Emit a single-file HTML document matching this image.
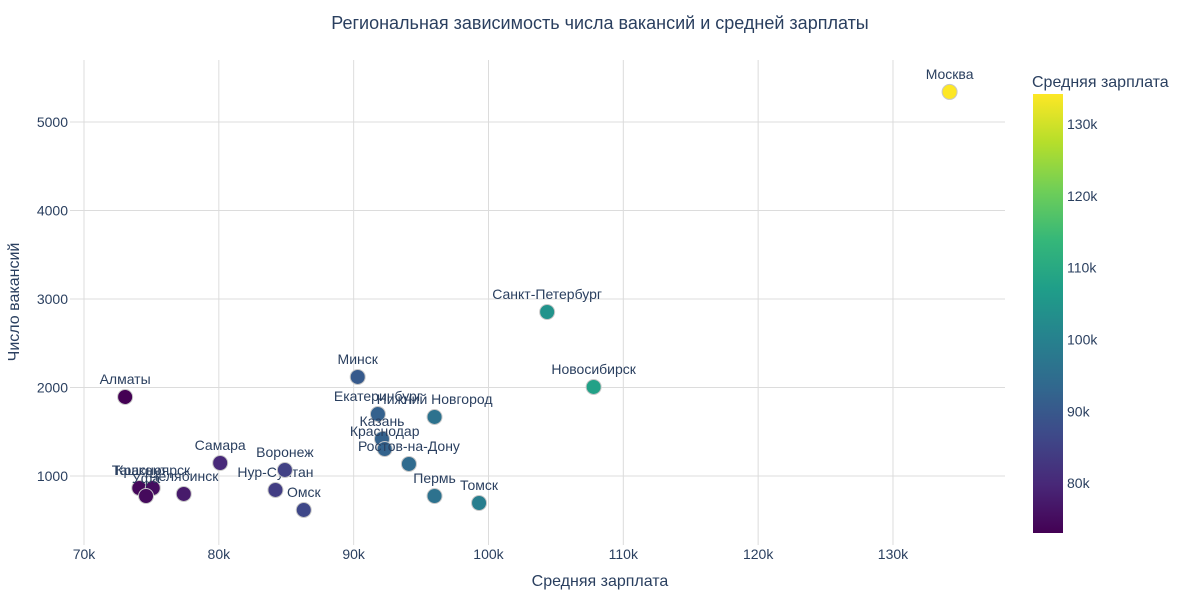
<!DOCTYPE html>
<html><head><meta charset="utf-8"><style>
body{margin:0;background:#fff;font-family:"Liberation Sans","DejaVu Sans",sans-serif}
svg text{font-family:"Liberation Sans","DejaVu Sans",sans-serif;fill:#2a3f5f}
</style></head><body>
<svg id="chart" width="1200" height="600">
<defs><linearGradient id="vir" x1="0" y1="1" x2="0" y2="0">
<stop offset="0" stop-color="#440154"/><stop offset="0.111" stop-color="#482878"/><stop offset="0.222" stop-color="#3e4989"/><stop offset="0.333" stop-color="#31688e"/><stop offset="0.444" stop-color="#26828e"/><stop offset="0.556" stop-color="#1f9e89"/><stop offset="0.667" stop-color="#35b779"/><stop offset="0.778" stop-color="#6ece58"/><stop offset="0.889" stop-color="#b5de2b"/><stop offset="1" stop-color="#fde725"/>
</linearGradient></defs>
<text x="600" y="29" text-anchor="middle" font-size="18">Региональная зависимость числа вакансий и средней зарплаты</text>
<g id="grid"></g><g id="marks"></g>
<text x="600" y="586" text-anchor="middle" font-size="16">Средняя зарплата</text>
<text transform="translate(19,302) rotate(-90)" text-anchor="middle" font-size="16">Число вакансий</text>
<text x="1032" y="87" font-size="16">Средняя зарплата</text>
<rect x="1033" y="94" width="30" height="439" fill="url(#vir)"/>
<g id="cbticks"></g>
</svg>
<script>
const cities=["Москва","Санкт-Петербург","Новосибирск","Минск","Екатеринбург","Нижний Новгород","Казань","Краснодар","Ростов-на-Дону","Пермь","Томск","Омск","Нур-Султан","Воронеж","Самара","Челябинск","Алматы","Ташкент","Красноярск","Уфа"];
const salaries=[134200,104350,107800,90300,91800,96000,92100,92300,94100,96000,99300,86300,84200,84900,80100,77400,73050,74100,75100,74600];
const vacancies=[5340,2853,2006,2119,1700,1667,1418,1305,1136,774,695,616,842,1068,1147,797,1893,864,864,774];
const xTicks=[70000,80000,90000,100000,110000,120000,130000];
const yTicks=[1000,2000,3000,4000,5000];
const cbTicks=[80000,90000,100000,110000,120000,130000];
const NS="http://www.w3.org/2000/svg";
const L=70,R=1005,T=60,B=545;
const xs=v=>84+(v-70000)*0.013483;
const ys=v=>476-(v-1000)*0.0885;
const cmin=Math.min(...salaries),cmax=Math.max(...salaries);
const cbY=v=>533-(v-cmin)/(cmax-cmin)*439;
const vir=["#440154","#482878","#3e4989","#31688e","#26828e","#1f9e89","#35b779","#6ece58","#b5de2b","#fde725"];
function hex(h){return [1,3,5].map(i=>parseInt(h.substr(i,2),16));}
function color(v){let t=(v-cmin)/(cmax-cmin)*9;let i=Math.min(8,Math.floor(t)),f=t-i;let a=hex(vir[i]),b=hex(vir[i+1]);return "rgb("+a.map((c,k)=>Math.round(c+(b[k]-c)*f)).join(",")+")";}
function mk(tag,at,txt){const e=document.createElementNS(NS,tag);for(const k in at)e.setAttribute(k,at[k]);if(txt!==undefined)e.textContent=txt;return e;}
const g=document.getElementById("grid"),m=document.getElementById("marks"),cb=document.getElementById("cbticks");
xTicks.forEach(v=>{const x=xs(v);
 const l=mk("line",{x1:x,x2:x,y1:T,y2:B,stroke:"#dcdcdc"});
 
 g.appendChild(l);
 const t=mk("text",{x:x,y:B+14,"text-anchor":"middle","font-size":"14"},(v/1000)+"k");
 
 g.appendChild(t);});
yTicks.forEach(v=>{const y=ys(v);
 const l=mk("line",{x1:L,x2:R,y1:y,y2:y,stroke:"#dcdcdc"});
 
 g.appendChild(l);
 const t=mk("text",{x:L-2,y:y+5,"text-anchor":"end","font-size":"14"},v);
 
 g.appendChild(t);});
cbTicks.forEach(v=>{const t=mk("text",{x:1067,y:cbY(v)+5,"font-size":"14"},(v/1000)+"k");
 
 cb.appendChild(t);});
cities.forEach((c,i)=>{const x=xs(salaries[i]),y=ys(vacancies[i]);
 const p=mk("circle",{cx:x,cy:y,r:7.5,fill:color(salaries[i]),stroke:"#c8c8c8","stroke-width":1});
 
 m.appendChild(p);
 const t=mk("text",{x:x,y:y-13,"text-anchor":"middle","font-size":"14"},c);
 
 m.appendChild(t);});
</script>
</body></html>
